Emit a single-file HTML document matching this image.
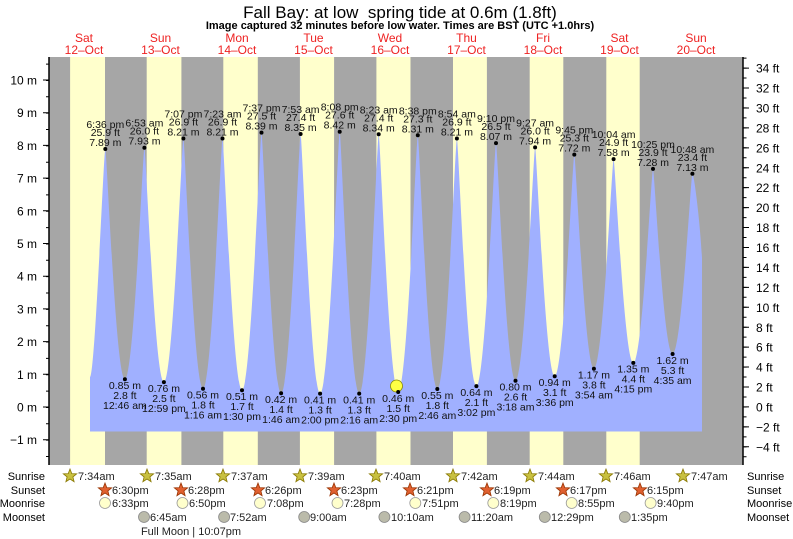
<!DOCTYPE html>
<html><head><meta charset="utf-8"><style>
html,body{margin:0;padding:0;background:#fff;}
svg{display:block;font-family:"Liberation Sans",Arial,sans-serif;}
</style></head><body>
<svg width="793" height="539" viewBox="0 0 793 539" xmlns="http://www.w3.org/2000/svg">
<rect width="793" height="539" fill="#fff"/>
<text x="400" y="18" font-size="17" text-anchor="middle" fill="#000">Fall Bay: at low&#160; spring tide at 0.6m (1.8ft)</text>
<text x="400" y="29" font-size="11" font-weight="bold" text-anchor="middle" fill="#000">Image captured 32 minutes before low water. Times are BST (UTC +1.0hrs)</text>
<g font-size="12" fill="#ee2222" text-anchor="middle">
<text x="84" y="42">Sat</text><text x="84" y="54">12–Oct</text>
<text x="160.5" y="42">Sun</text><text x="160.5" y="54">13–Oct</text>
<text x="237" y="42">Mon</text><text x="237" y="54">14–Oct</text>
<text x="313.5" y="42">Tue</text><text x="313.5" y="54">15–Oct</text>
<text x="390" y="42">Wed</text><text x="390" y="54">16–Oct</text>
<text x="466.5" y="42">Thu</text><text x="466.5" y="54">17–Oct</text>
<text x="543" y="42">Fri</text><text x="543" y="54">18–Oct</text>
<text x="619.5" y="42">Sat</text><text x="619.5" y="54">19–Oct</text>
<text x="696" y="42">Sun</text><text x="696" y="54">20–Oct</text>
</g>
<rect x="49" y="57" width="694" height="408" fill="#a6a6a6"/>
<g fill="#ffffcc">
<rect x="70.1" y="57" width="34.9" height="408"/>
<rect x="146.7" y="57" width="34.7" height="408"/>
<rect x="223.3" y="57" width="34.5" height="408"/>
<rect x="299.9" y="57" width="34.2" height="408"/>
<rect x="376.4" y="57" width="34.1" height="408"/>
<rect x="453" y="57" width="33.9" height="408"/>
<rect x="529.7" y="57" width="33.6" height="408"/>
<rect x="606.3" y="57" width="33.4" height="408"/>
</g>
<path fill="#a0b0ff" d="M90 431.5 L90 377 C95 377 103.8 149 105.3 149 S115.9 379.2 124.9 379.2 S142.9 147.7 144.4 147.7 S154.9 382.1 163.9 382.1 S181.9 138.5 183.4 138.5 S194 388.7 203 388.7 S221 138.5 222.5 138.5 S233 390.3 242 390.3 S260 132.6 261.5 132.6 S272.1 393.3 281.1 393.3 S299.1 134 300.6 134 S311.1 393.6 320.1 393.6 S338.2 131.7 339.7 131.7 S350.2 393.6 359.2 393.6 S377.2 134.3 378.7 134.3 S389.2 392 398.2 392 S416.3 135.3 417.8 135.3 S428.3 389 437.3 389 S455.4 138.5 456.9 138.5 S467.4 386.1 476.4 386.1 S494.5 143.1 496 143.1 S506.5 380.8 515.5 380.8 S533.6 147.4 535.1 147.4 S545.7 376.3 554.7 376.3 S572.8 154.6 574.3 154.6 S584.9 368.7 593.9 368.7 S612.1 159.1 613.6 159.1 S624.3 362.9 633.3 362.9 S651.5 168.9 653 168.9 S663.6 354 672.6 354 S690.9 173.8 692.4 173.8 C694 173.8 700 220 702 258 L702 431.5 Z"/>
<line x1="49" y1="57" x2="49" y2="465" stroke="#000" stroke-width="1.5"/>
<line x1="743" y1="57" x2="743" y2="465" stroke="#000" stroke-width="1.5"/>
<line x1="47.5" y1="63.6" x2="47.5" y2="465" stroke="#000" stroke-width="3" stroke-dasharray="1 15.35"/>
<line x1="46" y1="79.5" x2="46" y2="445" stroke="#000" stroke-width="6" stroke-dasharray="1 31.7"/>
<line x1="745" y1="57.6" x2="745" y2="465" stroke="#000" stroke-width="3" stroke-dasharray="1 8.967"/>
<line x1="746" y1="67.6" x2="746" y2="452" stroke="#000" stroke-width="6" stroke-dasharray="1 18.93"/>
<g font-size="12" fill="#000" text-anchor="end">
<text x="37" y="84.5">10 m</text><text x="37" y="117.2">9 m</text><text x="37" y="149.9">8 m</text><text x="37" y="182.6">7 m</text><text x="37" y="215.3">6 m</text><text x="37" y="248">5 m</text><text x="37" y="280.7">4 m</text><text x="37" y="313.4">3 m</text><text x="37" y="346.1">2 m</text><text x="37" y="378.8">1 m</text><text x="37" y="411.5">0 m</text><text x="37" y="444.2">−1 m</text>
</g>
<g font-size="12" fill="#000">
<text x="756" y="72.6">34 ft</text><text x="756" y="92.6">32 ft</text><text x="756" y="112.5">30 ft</text><text x="756" y="132.4">28 ft</text><text x="756" y="152.4">26 ft</text><text x="756" y="172.3">24 ft</text><text x="756" y="192.2">22 ft</text><text x="756" y="212.2">20 ft</text><text x="756" y="232.1">18 ft</text><text x="756" y="252">16 ft</text><text x="756" y="272">14 ft</text><text x="756" y="291.9">12 ft</text><text x="756" y="311.8">10 ft</text><text x="756" y="331.8">8 ft</text><text x="756" y="351.7">6 ft</text><text x="756" y="371.6">4 ft</text><text x="756" y="391.6">2 ft</text><text x="756" y="411.5">0 ft</text><text x="756" y="431.4">−2 ft</text><text x="756" y="451.4">−4 ft</text>
</g>
<circle cx="396.5" cy="386" r="6" fill="#ffff44" stroke="#888800" stroke-width="0.8"/>
<g fill="#000">
<circle cx="105.3" cy="149" r="2"/><circle cx="144.4" cy="147.7" r="2"/><circle cx="183.4" cy="138.5" r="2"/><circle cx="222.5" cy="138.5" r="2"/><circle cx="261.5" cy="132.6" r="2"/><circle cx="300.6" cy="134" r="2"/><circle cx="339.7" cy="131.7" r="2"/><circle cx="378.7" cy="134.3" r="2"/><circle cx="417.8" cy="135.3" r="2"/><circle cx="456.9" cy="138.5" r="2"/><circle cx="496" cy="143.1" r="2"/><circle cx="535.1" cy="147.4" r="2"/><circle cx="574.3" cy="154.6" r="2"/><circle cx="613.6" cy="159.1" r="2"/><circle cx="653" cy="168.9" r="2"/><circle cx="692.4" cy="173.8" r="2"/>
<circle cx="124.9" cy="379.2" r="2"/><circle cx="163.9" cy="382.1" r="2"/><circle cx="203" cy="388.7" r="2"/><circle cx="242" cy="390.3" r="2"/><circle cx="281.1" cy="393.3" r="2"/><circle cx="320.1" cy="393.6" r="2"/><circle cx="359.2" cy="393.6" r="2"/><circle cx="398.2" cy="392" r="2"/><circle cx="437.3" cy="389" r="2"/><circle cx="476.4" cy="386.1" r="2"/><circle cx="515.5" cy="380.8" r="2"/><circle cx="554.7" cy="376.3" r="2"/><circle cx="593.9" cy="368.7" r="2"/><circle cx="633.3" cy="362.9" r="2"/><circle cx="672.6" cy="354" r="2"/>
</g>
<g font-size="10.5" fill="#111" text-anchor="middle">
<text x="105.3" y="128">6:36 pm</text><text x="105.3" y="136">25.9 ft</text><text x="105.3" y="146">7.89 m</text>
<text x="144.4" y="126.7">6:53 am</text><text x="144.4" y="134.7">26.0 ft</text><text x="144.4" y="144.7">7.93 m</text>
<text x="183.4" y="117.5">7:07 pm</text><text x="183.4" y="125.5">26.9 ft</text><text x="183.4" y="135.5">8.21 m</text>
<text x="222.5" y="117.5">7:23 am</text><text x="222.5" y="125.5">26.9 ft</text><text x="222.5" y="135.5">8.21 m</text>
<text x="261.5" y="111.6">7:37 pm</text><text x="261.5" y="119.6">27.5 ft</text><text x="261.5" y="129.6">8.39 m</text>
<text x="300.6" y="113">7:53 am</text><text x="300.6" y="121">27.4 ft</text><text x="300.6" y="131">8.35 m</text>
<text x="339.7" y="110.7">8:08 pm</text><text x="339.7" y="118.7">27.6 ft</text><text x="339.7" y="128.7">8.42 m</text>
<text x="378.7" y="113.3">8:23 am</text><text x="378.7" y="121.3">27.4 ft</text><text x="378.7" y="131.3">8.34 m</text>
<text x="417.8" y="114.3">8:38 pm</text><text x="417.8" y="122.3">27.3 ft</text><text x="417.8" y="132.3">8.31 m</text>
<text x="456.9" y="117.5">8:54 am</text><text x="456.9" y="125.5">26.9 ft</text><text x="456.9" y="135.5">8.21 m</text>
<text x="496" y="122.1">9:10 pm</text><text x="496" y="130.1">26.5 ft</text><text x="496" y="140.1">8.07 m</text>
<text x="535.1" y="126.4">9:27 am</text><text x="535.1" y="134.4">26.0 ft</text><text x="535.1" y="144.4">7.94 m</text>
<text x="574.3" y="133.6">9:45 pm</text><text x="574.3" y="141.6">25.3 ft</text><text x="574.3" y="151.6">7.72 m</text>
<text x="613.6" y="138.1">10:04 am</text><text x="613.6" y="146.1">24.9 ft</text><text x="613.6" y="156.1">7.58 m</text>
<text x="653" y="147.9">10:25 pm</text><text x="653" y="155.9">23.9 ft</text><text x="653" y="165.9">7.28 m</text>
<text x="692.4" y="152.8">10:48 am</text><text x="692.4" y="160.8">23.4 ft</text><text x="692.4" y="170.8">7.13 m</text>
<text x="124.9" y="389">0.85 m</text><text x="124.9" y="399">2.8 ft</text><text x="124.9" y="409">12:46 am</text>
<text x="163.9" y="392">0.76 m</text><text x="163.9" y="402">2.5 ft</text><text x="163.9" y="412">12:59 pm</text>
<text x="203" y="398.5">0.56 m</text><text x="203" y="408.5">1.8 ft</text><text x="203" y="418.5">1:16 am</text>
<text x="242" y="400">0.51 m</text><text x="242" y="410">1.7 ft</text><text x="242" y="420">1:30 pm</text>
<text x="281.1" y="403">0.42 m</text><text x="281.1" y="413">1.4 ft</text><text x="281.1" y="423">1:46 am</text>
<text x="320.1" y="403.5">0.41 m</text><text x="320.1" y="413.5">1.3 ft</text><text x="320.1" y="423.5">2:00 pm</text>
<text x="359.2" y="403.5">0.41 m</text><text x="359.2" y="413.5">1.3 ft</text><text x="359.2" y="423.5">2:16 am</text>
<text x="398.2" y="402">0.46 m</text><text x="398.2" y="412">1.5 ft</text><text x="398.2" y="422">2:30 pm</text>
<text x="437.3" y="399">0.55 m</text><text x="437.3" y="409">1.8 ft</text><text x="437.3" y="419">2:46 am</text>
<text x="476.4" y="396">0.64 m</text><text x="476.4" y="406">2.1 ft</text><text x="476.4" y="416">3:02 pm</text>
<text x="515.5" y="390.5">0.80 m</text><text x="515.5" y="400.5">2.6 ft</text><text x="515.5" y="410.5">3:18 am</text>
<text x="554.7" y="386">0.94 m</text><text x="554.7" y="396">3.1 ft</text><text x="554.7" y="406">3:36 pm</text>
<text x="593.9" y="378.5">1.17 m</text><text x="593.9" y="388.5">3.8 ft</text><text x="593.9" y="398.5">3:54 am</text>
<text x="633.3" y="372.5">1.35 m</text><text x="633.3" y="382.5">4.4 ft</text><text x="633.3" y="392.5">4:15 pm</text>
<text x="672.6" y="364">1.62 m</text><text x="672.6" y="374">5.3 ft</text><text x="672.6" y="384">4:35 am</text>
</g>
<g font-size="11" fill="#000">
<g text-anchor="end"><text x="45" y="480">Sunrise</text><text x="45" y="494">Sunset</text><text x="45" y="507">Moonrise</text><text x="45" y="521">Moonset</text></g>
<text x="747" y="480">Sunrise</text><text x="747" y="494">Sunset</text><text x="747" y="507">Moonrise</text><text x="747" y="521">Moonset</text>
</g>
<defs>
<polygon id="st" points="0,-7 1.8,-2.4 6.7,-2.2 2.9,0.9 4.1,5.7 0,3 -4.1,5.7 -2.9,0.9 -6.7,-2.2 -1.8,-2.4"/>
</defs>
<g fill="#c8c040" stroke="#887700" stroke-width="0.8">
<use href="#st" x="70" y="476"/><use href="#st" x="147" y="476"/><use href="#st" x="223" y="476"/><use href="#st" x="300" y="476"/><use href="#st" x="376" y="476"/><use href="#st" x="453" y="476"/><use href="#st" x="530" y="476"/><use href="#st" x="606" y="476"/><use href="#st" x="683" y="476"/>
</g>
<g fill="#e06030" stroke="#993300" stroke-width="0.8">
<use href="#st" x="105" y="490"/><use href="#st" x="181" y="490"/><use href="#st" x="258" y="490"/><use href="#st" x="334" y="490"/><use href="#st" x="410" y="490"/><use href="#st" x="487" y="490"/><use href="#st" x="563" y="490"/><use href="#st" x="640" y="490"/>
</g>
<g fill="#ffffcc" stroke="#999" stroke-width="0.8">
<circle cx="105" cy="503" r="5.5"/><circle cx="182.5" cy="503" r="5.5"/><circle cx="260" cy="503" r="5.5"/><circle cx="337.5" cy="503" r="5.5"/><circle cx="415.3" cy="503" r="5.5"/><circle cx="493.3" cy="503" r="5.5"/><circle cx="571.7" cy="503" r="5.5"/><circle cx="650.6" cy="503" r="5.5"/>
</g>
<g fill="#bbbbaa" stroke="#888" stroke-width="0.8">
<circle cx="144" cy="517" r="5.5"/><circle cx="224.1" cy="517" r="5.5"/><circle cx="304.2" cy="517" r="5.5"/><circle cx="384.4" cy="517" r="5.5"/><circle cx="464.6" cy="517" r="5.5"/><circle cx="544.8" cy="517" r="5.5"/><circle cx="624.8" cy="517" r="5.5"/>
</g>
<g font-size="11" fill="#222">
<text x="78" y="480">7:34am</text><text x="155" y="480">7:35am</text><text x="231" y="480">7:37am</text><text x="308" y="480">7:39am</text><text x="384" y="480">7:40am</text><text x="461" y="480">7:42am</text><text x="538" y="480">7:44am</text><text x="614" y="480">7:46am</text><text x="691" y="480">7:47am</text>
<text x="112" y="494">6:30pm</text><text x="188" y="494">6:28pm</text><text x="265" y="494">6:26pm</text><text x="341" y="494">6:23pm</text><text x="417" y="494">6:21pm</text><text x="494" y="494">6:19pm</text><text x="570" y="494">6:17pm</text><text x="647" y="494">6:15pm</text>
<text x="112" y="507">6:33pm</text><text x="189" y="507">6:50pm</text><text x="267" y="507">7:08pm</text><text x="344" y="507">7:28pm</text><text x="422" y="507">7:51pm</text><text x="500" y="507">8:19pm</text><text x="578" y="507">8:55pm</text><text x="657" y="507">9:40pm</text>
<text x="150" y="521">6:45am</text><text x="230" y="521">7:52am</text><text x="310" y="521">9:00am</text><text x="391" y="521">10:10am</text><text x="471" y="521">11:20am</text><text x="551" y="521">12:29pm</text><text x="631" y="521">1:35pm</text>
<text x="191" y="535" text-anchor="middle">Full Moon | 10:07pm</text>
</g>
</svg>
</body></html>
